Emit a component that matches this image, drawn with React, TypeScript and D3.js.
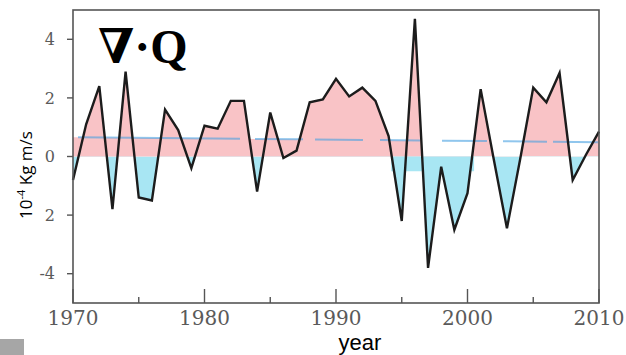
import * as d3 from 'd3';
import { useEffect } from 'react';

const years = [
  1970, 1971, 1972, 1973, 1974, 1975, 1976, 1977, 1978, 1979,
  1980, 1981, 1982, 1983, 1984, 1985, 1986, 1987, 1988, 1989,
  1990, 1991, 1992, 1993, 1994, 1995, 1996, 1997, 1998, 1999,
  2000, 2001, 2002, 2003, 2004, 2005, 2006, 2007, 2008, 2009, 2010,
];
const divQ = [
  -0.8, 1.1, 2.4, -1.8, 2.9, -1.4, -1.5, 1.6, 0.9, -0.4,
  1.05, 0.95, 1.9, 1.9, -1.2, 1.5, -0.05, 0.2, 1.85, 1.95,
  2.65, 2.05, 2.35, 1.9, 0.7, -2.2, 4.7, -3.8, -0.35, -2.5,
  -1.25, 2.3, -0.1, -2.45, -0.1, 2.35, 1.85, 2.85, -0.8, 0.05, 0.85,
];
// linear trend (dashed)
const trendYears = [1970, 2010];
const trendValues = [0.66, 0.49];
// shaded regime bands behind the curve
const warmBandYears = [1970, 1996.4];
const warmBandValues = [0.66, 0.54];
const dryBandYears = [1994.2, 2000.5];
const dryBandValues = [-0.5, -0.5];

const xTicks = [1970, 1980, 1990, 2000, 2010];
const xMinorTicks = [1975, 1985, 1995, 2005];
const yTicks = [-4, -2, 0, 2, 4];
const yTickLabels = ['-4', '2', '0', '2', '4'];

const width = 626;
const height = 355;
const left = 73;
const right = 599;
const top = 10;
const bottom = 303;

type Pt = { yr: number; v: number };

export default function App() {
  useEffect(() => {
    document.body.style.margin = '0';
  }, []);

  const x = d3.scaleLinear().domain([1970, 2010]).range([left, right]);
  const y = d3.scaleLinear().domain([-5, 5]).range([bottom, top]);

  const points: Pt[] = years.map((yr, i) => ({ yr, v: divQ[i] }));
  const trend: Pt[] = trendYears.map((yr, i) => ({ yr, v: trendValues[i] }));
  const warm: Pt[] = warmBandYears.map((yr, i) => ({ yr, v: warmBandValues[i] }));
  const dry: Pt[] = dryBandYears.map((yr, i) => ({ yr, v: dryBandValues[i] }));

  const area = d3.area<Pt>()
    .x((d) => x(d.yr))
    .y0(y(0))
    .y1((d) => y(d.v));
  const line = d3.line<Pt>()
    .x((d) => x(d.yr))
    .y((d) => y(d.v));

  const zeroY = y(0);

  return (
    <svg width={width} height={height} style={{ display: 'block' }}>
      <defs>
        <clipPath id="above">
          <rect x={left} y={top} width={right - left} height={zeroY - top} />
        </clipPath>
        <clipPath id="below">
          <rect x={left} y={zeroY} width={right - left} height={bottom - zeroY} />
        </clipPath>
      </defs>
      <rect width={width} height={height} fill="#ffffff" />

      <path d={area(warm) ?? ''} fill="#f9c3c6" />
      <path d={area(dry) ?? ''} fill="#a8e6f3" />
      <path d={area(points) ?? ''} fill="#f9c3c6" clipPath="url(#above)" />
      <path d={area(points) ?? ''} fill="#a8e6f3" clipPath="url(#below)" />

      {/* trend, dashed unevenly like the original */}
      <path
        d={line(trend) ?? ''}
        fill="none"
        stroke="rgba(70,160,225,0.6)"
        strokeWidth="2"
        strokeDasharray="0 5 162 15 48 12 48 17 40 22 45 16 44 6 45 10"
      />

      <path d={line(points) ?? ''} fill="none" stroke="#1c1c1c" strokeWidth="2.4" strokeLinejoin="miter" />

      <rect x={left} y={top} width={right - left} height={bottom - top} fill="none" stroke="#555" strokeWidth="1.6" />

      {xTicks.map((t) => (
        <g key={t}>
          <line x1={x(t)} x2={x(t)} y1={bottom} y2={bottom - 14} stroke="#555" strokeWidth="1.4" />
          <text x={x(t)} y={325} textAnchor="middle" fontFamily="DejaVu Serif" fontSize="20" fill="#5a5a5a">
            {t}
          </text>
        </g>
      ))}
      {xMinorTicks.map((t) => (
        <line key={t} x1={x(t)} x2={x(t)} y1={bottom} y2={bottom - 6} stroke="#555" strokeWidth="1.4" />
      ))}

      {yTicks.map((t, i) => (
        <g key={t}>
          <line x1={left - 6} x2={left} y1={y(t)} y2={y(t)} stroke="#555" strokeWidth="1.4" />
          <text x={left - 18} y={y(t)} dy="0.35em" textAnchor="end" fontFamily="DejaVu Serif" fontSize="16" fill="#5a5a5a">
            {yTickLabels[i]}
          </text>
        </g>
      ))}

      <text x={98} y={63} fontFamily="Liberation Serif, DejaVu Serif" fontWeight="bold" fontSize="48" fill="#000">
        ∇·Q
      </text>

      <text
        transform="translate(32,175) rotate(-90)"
        textAnchor="middle"
        fontFamily="Open Sans"
        fontSize="17"
        fill="#000"
      >
        10<tspan fontSize="11" dy="-7">-4</tspan>
        <tspan dy="7"> Kg m/s</tspan>
      </text>

      <text x={360} y={350} textAnchor="middle" fontFamily="Liberation Sans" fontSize="22" fill="#000">
        year
      </text>

      <rect x={0} y={339} width={24} height={16} fill="#a6a6a6" />
    </svg>
  );
}
